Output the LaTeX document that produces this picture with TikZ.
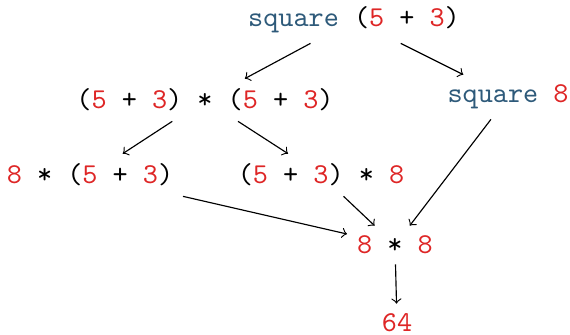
\documentclass[tikz,border=0pt]{standalone}
\usepackage{xcolor}
\usetikzlibrary{arrows,positioning}

\definecolor{fncol}{RGB}{46,90,122}
\definecolor{numcol}{RGB}{222,38,38}
\newcommand{\fn}[1]{\textcolor{fncol}{#1}}
\newcommand{\nm}[1]{\textcolor{numcol}{#1}}

\begin{document}
\begin{tikzpicture}[
    x=0.3472pt, y=-0.3472pt,
    term/.style={font=\ttfamily},
    arrow/.style={->}
]
    \useasboundingbox (0,0) rectangle (570,334);

    \node[term] (sq) at (354,20) {\fn{square} (\nm{5} + \nm{3})};
    \node[term] (mul) at (205,100) {(\nm{5} + \nm{3}) * (\nm{5} + \nm{3})};
    \node[term] (sqe) at (508,97) {\fn{square} \nm{8}};
    \node[term] (left) at (90,175) {\nm{8} * (\nm{5} + \nm{3})};
    \node[term] (right) at (321,175) {(\nm{5} + \nm{3}) * \nm{8}};
    \node[term] (prod) at (395,245) {\nm{8} * \nm{8}};
    \node[term] (res) at (397,323) {\nm{64}};

    % reduction steps
    \draw[arrow] (sq) -- (mul);
    \draw[arrow] (sq) -- (sqe);
    \draw[arrow] (mul) -- (left);
    \draw[arrow] (mul) -- (right);
    \draw[arrow] (sqe) -- (prod);
    \draw[arrow] (left) -- (prod);
    \draw[arrow] (right) -- (prod);
    \draw[arrow] (prod) -- (res);
\end{tikzpicture}
\end{document}
